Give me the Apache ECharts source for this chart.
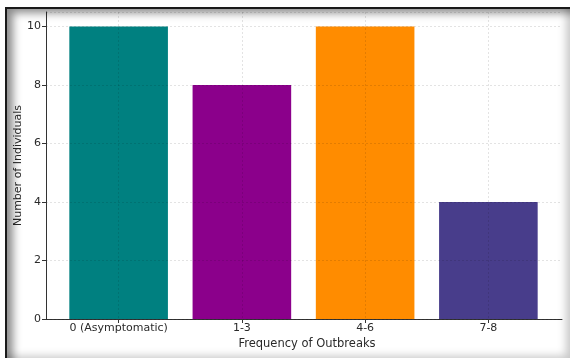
<!DOCTYPE html>
<html>
<head>
<meta charset="utf-8">
<script src="https://cdn.jsdelivr.net/npm/echarts@6/dist/echarts.min.js"></script>
<style>
  html, body { margin: 0; padding: 0; background: #fff; }
  #chart { position: absolute; left: 0; top: 0; width: 570px; height: 358px; }
  #frame {
    position: absolute; left: 5px; top: 7px; width: 563px; height: 351px;
    border-top: 2px solid #1a1a1a; border-left: 2px solid #1a1a1a;
    box-shadow: inset 9px 7px 8px -3px rgba(0,0,0,0.45), inset -7px -7px 8px -3px rgba(0,0,0,0.22);
    pointer-events: none;
  }
</style>
</head>
<body>
<div id="chart"></div>
<div id="frame"></div>
<script>
// Outbreak frequency groups and how many individuals fall in each
const categories = ['0 (Asymptomatic)', '1-3', '4-6', '7-8'];
const counts = [10, 8, 10, 4];
const barColors = ['#008080', '#8B008B', '#FF8C00', '#483D8B'];
const yTicks = [0, 2, 4, 6, 8, 10];

const font = 'DejaVu Sans';
const ink = '#2a2a2a';
const gridLine = { color: 'rgba(0,0,0,0.11)', width: 1, type: [2, 2] };

const chart = echarts.init(document.getElementById('chart'), null, { renderer: 'canvas' });
chart.setOption({
  animation: false,
  grid: [
    { left: 46, right: 8, top: 12, bottom: 39 },
    { left: 57, right: 20, top: 12, bottom: 39 }
  ],
  xAxis: [
    {
      gridIndex: 0, type: 'value', min: 0, max: 1,
      axisLine: { show: true, lineStyle: { color: '#333', width: 1 } },
      axisTick: { show: false }, axisLabel: { show: false }, splitLine: { show: false },
      name: 'Frequency of Outbreaks', nameLocation: 'middle', nameGap: 19,
      nameTextStyle: { fontFamily: font, fontSize: 11.5, color: ink, padding: [0, 0, 0, 6] }
    },
    {
      gridIndex: 1, type: 'category', data: categories, z: 5,
      axisLine: { show: false },
      axisTick: { show: true, interval: 0, alignWithLabel: true, length: 4, lineStyle: { color: '#333' } },
      axisLabel: { interval: 0, margin: 4, fontFamily: font, fontSize: 11, color: ink },
      splitLine: { show: true, interval: 0, alignWithLabel: true, lineStyle: gridLine }
    }
  ],
  yAxis: [
    {
      gridIndex: 0, type: 'value', min: 0, max: 10.5, interval: 2, z: 5,
      axisLine: { show: true, lineStyle: { color: '#333', width: 1 } },
      axisTick: { show: true, length: 4, lineStyle: { color: '#333' } },
      axisLabel: {
        margin: 5, fontFamily: font, fontSize: 11, color: ink, showMaxLabel: false,
        formatter: v => (yTicks.includes(v) ? String(v) : '')
      },
      splitLine: { show: true, lineStyle: gridLine },
      name: 'Number of Individuals', nameLocation: 'middle', nameGap: 22, nameMoveOverlap: false,
      nameTextStyle: { fontFamily: font, fontSize: 11, color: ink }
    },
    { gridIndex: 1, type: 'value', min: 0, max: 10.5, show: false }
  ],
  series: [{
    type: 'bar', xAxisIndex: 1, yAxisIndex: 1,
    barCategoryGap: '20%',
    data: counts.map((v, i) => ({ value: v, itemStyle: { color: barColors[i] } }))
  }]
});
</script>
</body>
</html>
